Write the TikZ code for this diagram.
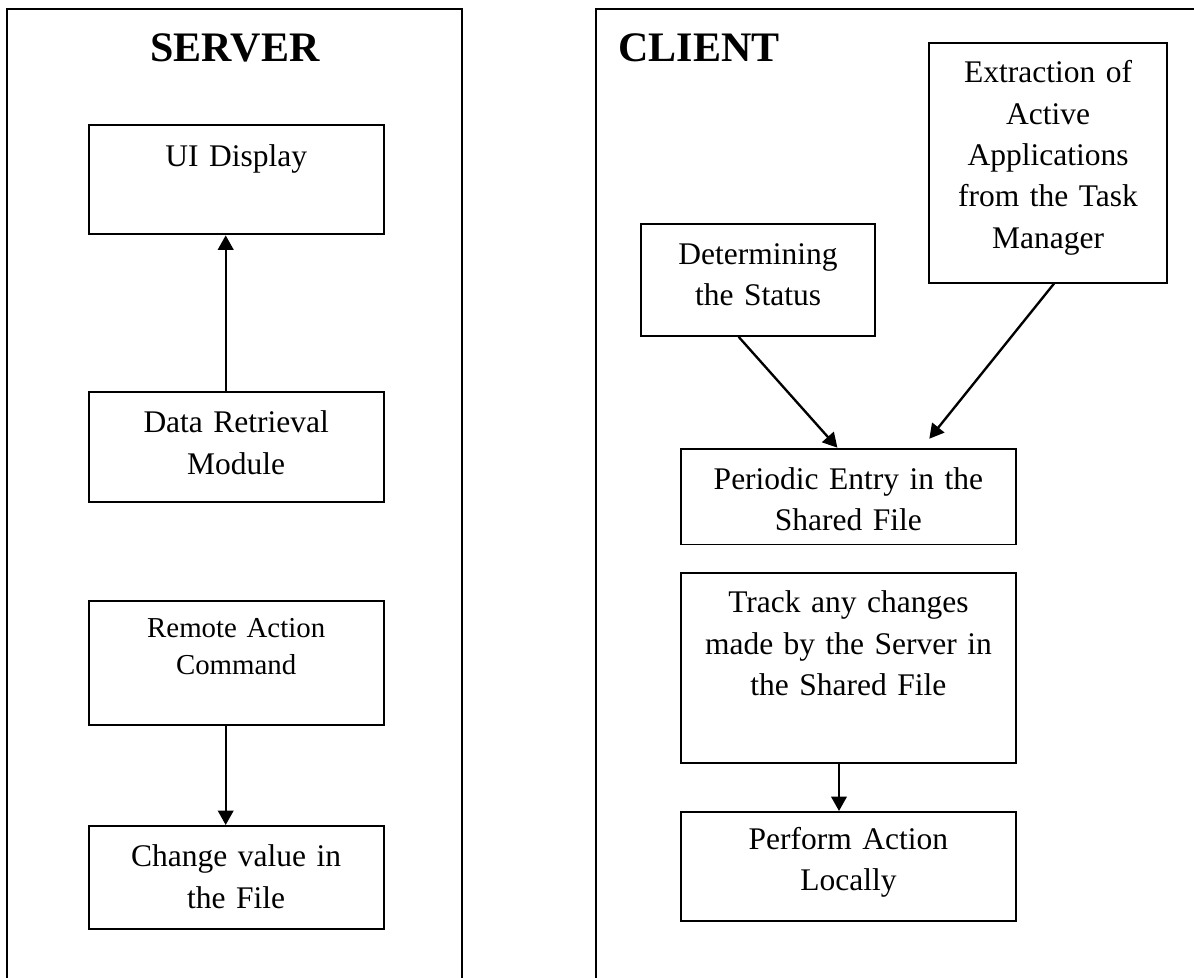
\documentclass[tikz,border=0pt]{standalone}
\usepackage{fontspec}
\setmainfont{Liberation Serif}
\usetikzlibrary{arrows.meta}
\tikzset{%
    box/.style={%
        draw, line width=0.75pt, anchor=north west, inner sep=0pt,
        align=center, text height=15.4pt,
        font=\fontsize{12}{15.8}\selectfont
    },
    frame/.style={draw, line width=0.75pt},
    title/.style={inner sep=0pt, font=\fontsize{16}{19}\selectfont\bfseries},
    arr/.style={-{Triangle[length=5.5pt,width=5.9pt]}, line width=0.9pt}
}

\begin{document}
\begin{tikzpicture}[x=0.381pt,y=-0.381pt]
    \clip (0,0) rectangle (1194,978);
    \draw[frame] (7.3,9.3) rectangle (462,1010);
    \draw[frame] (596,9.3) rectangle (1220,1010);
    \node[title, anchor=base] (srvtitle) at (235,61.7) {SERVER};
    \node[title, anchor=base west] (clititle) at (618,61.7) {CLIENT};
    \node[box, text width=112.4pt, text height=15.7pt, text depth=25.8pt] (ui) at (87.7,124.5) {UI Display};
    \node[box, text width=112.4pt, text height=15.6pt, text depth=26.3pt] (dr) at (87.7,390.7) {Data Retrieval\\Module};
    \node[box, text width=112.4pt, text height=14pt, text depth=33.4pt,
        font=\fontsize{11}{14}\selectfont] (ra) at (87.7,600) {Remote Action\\Command};
    \node[box, text width=112.4pt, text height=15.6pt, text depth=23.5pt] (cv) at (87.7,825) {Change value in\\the File};
    \node[box, text width=90.7pt, text height=15.2pt, text depth=76.2pt] (ext) at (928,41.7)
        {Extraction of\\Active\\Applications\\from the Task\\Manager};
    \node[box, text width=89.2pt, text height=15.2pt, text depth=27.3pt] (det) at (640,223.3) {Determining\\the Status};
    \node[box, text width=127.6pt, text height=15.4pt, text depth=21.1pt] (per) at (680,447.7) {Periodic Entry in the\\Shared File};
    \node[box, text width=127.6pt, text height=15.2pt, text depth=57.3pt] (trk) at (680,571.7)
        {Track any changes\\made by the Server in\\the Shared File};
    \node[box, text width=127.6pt, text height=14.2pt, text depth=27.3pt] (perf) at (680,811) {Perform Action\\Locally};
    \draw[arr] ([xshift=-4pt]dr.north) -- ([xshift=-4pt]ui.south);
    \draw[arr] ([xshift=-4pt]ra.south) -- ([xshift=-4pt]cv.north);
    \draw[arr] ([xshift=-7.4pt]det.south) -- ([xshift=-4.2pt]per.north);
    \draw[arr] ([xshift=2.3pt]ext.south) -- ([xshift=30.8pt,yshift=3.4pt]per.north);
    \draw[arr] ([xshift=-3.6pt]trk.south) -- ([xshift=-3.6pt]perf.north);
\end{tikzpicture}
\end{document}
